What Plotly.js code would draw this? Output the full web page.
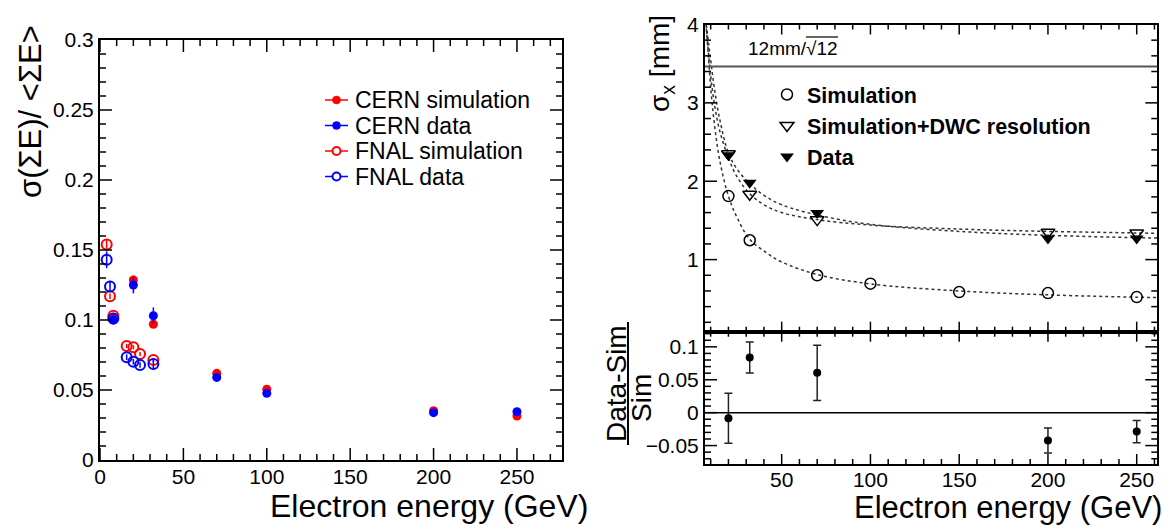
<!DOCTYPE html>
<html>
<head>
<meta charset="utf-8">
<script src="https://cdn.plot.ly/plotly-3.0.1.min.js"></script>
<style>
html,body{margin:0;padding:0;background:#fff;}
#chart{width:1173px;height:526px;}
</style>
</head>
<body>
<div id="chart"></div>
<script>
// ---------- Left panel: energy resolution ----------
const fnalEnergy   = [4, 6, 8, 16, 20, 24, 32];
const fnalSim      = [0.154, 0.117, 0.103, 0.0814, 0.0805, 0.0757, 0.0714];
const fnalSimErr   = [0.003, 0.002, 0.002, 0.0015, 0.0015, 0.0015, 0.0015];
const fnalData     = [0.143, 0.124, 0.101, 0.0734, 0.0702, 0.0679, 0.0686];
const fnalDataErr  = [0.006, 0.004, 0.003, 0.002, 0.002, 0.002, 0.004];
const cernEnergy   = [8, 20, 32, 70, 100, 200, 250];
const cernSim      = [0.102, 0.1286, 0.097, 0.0619, 0.0505, 0.0352, 0.0314];
const cernSimErr   = [0.002, 0.003, 0.002, 0.001, 0.001, 0.001, 0.001];
const cernData     = [0.100, 0.125, 0.103, 0.059, 0.0476, 0.0338, 0.0345];
const cernDataErr  = [0.003, 0.006, 0.006, 0.0015, 0.0015, 0.001, 0.001];
const leftLegendNames  = ['CERN simulation', 'CERN data', 'FNAL simulation', 'FNAL data'];

// ---------- Right panel: position resolution ----------
const simEnergy    = [20, 32, 70, 100, 150, 200, 250];
const simSigma     = [1.81, 1.247, 0.80, 0.693, 0.586, 0.573, 0.522];
const dwcEnergy    = [20, 32, 70, 200, 250];
const dwcSigma     = [2.35, 1.834, 1.51, 1.35, 1.34];
const dataEnergy   = [20, 32, 70, 200, 250];
const dataSigma    = [2.33, 1.98, 1.595, 1.27, 1.27];
// fitted curves
const curveEnergy  = [7.5, 10, 12, 15, 20, 25, 32, 40, 50, 70, 100, 150, 200, 250, 262];
const simCurve     = [4.0, 3.2, 2.75, 2.28, 1.81, 1.53, 1.26, 1.11, 0.97, 0.81, 0.69, 0.60, 0.55, 0.52, 0.515];
const dwcCurve     = [3.95, 3.35, 3.0, 2.65, 2.3, 2.05, 1.84, 1.70, 1.60, 1.51, 1.44, 1.39, 1.36, 1.34, 1.335];
const dataCurve    = [4.0, 3.55, 3.2, 2.8, 2.36, 2.15, 1.97, 1.82, 1.70, 1.57, 1.45, 1.36, 1.31, 1.28, 1.275];
// ratio (Data-Sim)/Sim
const ratioEnergy  = [20, 32, 70, 200, 250];
const ratioValue   = [-0.0085, 0.0839, 0.0606, -0.0424, -0.0288];
const ratioErr     = [0.038, 0.0235, 0.042, 0.019, 0.017];
const wireLimit    = 12 / Math.sqrt(12);

const FONT = 'Liberation Sans, Arial, Helvetica, sans-serif';
const RED = '#ff0000', BLUE = '#0000ff';
const W = 1173, H = 526;
const px = v => v / W;
const py = v => (H - v) / H;

// axis geometry
const leftXDom = [px(100), px(562)],      leftXRange = [0, 277];
const leftYDom = [py(460), py(40)],       leftYRange = [0, 0.3];
const rightXDom = [px(705), px(1157.3)],  rightXRange = [6.8, 261.6];
const upYDom = [py(331.7), py(24.5)],     upYRange = [0.08, 4];
const loYDom = [py(464), py(331.7)],      loYRange = [-0.078, 0.123];

function errY(arr, color, width) {
  return {type: 'data', array: arr, visible: true, color: color, thickness: 1.5, width: width};
}

// ---- ROOT-style frame ticks (inside, all four sides), placed through the axis mapping ----
function tickValues(from, to, step, scale) {
  const out = [];
  for (let i = Math.round(from * scale); i <= Math.round(to * scale); i += Math.round(step * scale)) out.push(i / scale);
  return out;
}
const toPaper = (v, dom, range) => dom[0] + (v - range[0]) / (range[1] - range[0]) * (dom[1] - dom[0]);
const tickShapes = [];
function frameTicks(xDom, xRange, yDom, yRange, xMaj, xMin, yMaj, yMin, xLen, yLen) {
  const line = (x0, y0, x1, y1) => tickShapes.push({type: 'line', xref: 'paper', yref: 'paper',
    x0: x0, y0: y0, x1: x1, y1: y1, line: {color: '#000', width: 1.5}});
  const addX = (vals, len) => vals.forEach(v => {
    const xp = toPaper(v, xDom, xRange), l = len / H;
    line(xp, yDom[0], xp, yDom[0] + l);
    line(xp, yDom[1], xp, yDom[1] - l);
  });
  const addY = (vals, len) => vals.forEach(v => {
    const yp = toPaper(v, yDom, yRange), l = len / W;
    line(xDom[0], yp, xDom[0] + l, yp);
    line(xDom[1], yp, xDom[1] - l, yp);
  });
  addX(xMaj, xLen[0]); addX(xMin, xLen[1]);
  addY(yMaj, yLen[0]); addY(yMin, yLen[1]);
}
const not = m => v => Math.abs(v / m - Math.round(v / m)) > 1e-6;
frameTicks(leftXDom, leftXRange, leftYDom, leftYRange,
  tickValues(0, 250, 50, 1), tickValues(10, 270, 10, 1).filter(not(50)),
  tickValues(0.05, 0.25, 0.05, 100), tickValues(0.01, 0.29, 0.01, 100).filter(not(0.05)), [12, 6], [12, 6]);
frameTicks(rightXDom, rightXRange, upYDom, upYRange,
  tickValues(50, 250, 50, 1), tickValues(10, 260, 10, 1).filter(not(50)),
  tickValues(1, 3, 1, 1), tickValues(0.2, 3.8, 0.2, 10).filter(not(1)), [10, 5], [12, 6]);
frameTicks(rightXDom, rightXRange, loYDom, loYRange,
  tickValues(50, 250, 50, 1), tickValues(10, 260, 10, 1).filter(not(50)),
  tickValues(-0.05, 0.1, 0.05, 100), tickValues(-0.07, 0.12, 0.01, 100).filter(not(0.05)), [10, 5], [12, 6]);

const traces = [
  // left panel data
  {x: fnalEnergy, y: fnalSim, mode: 'markers', type: 'scatter', xaxis: 'x', yaxis: 'y', showlegend: false,
   marker: {symbol: 'circle-open', size: 10, color: RED, line: {width: 2, color: RED}}, error_y: errY(fnalSimErr, RED, 0)},
  {x: cernEnergy, y: cernSim, mode: 'markers', type: 'scatter', xaxis: 'x', yaxis: 'y', showlegend: false,
   marker: {symbol: 'circle', size: 9, color: RED}, error_y: errY(cernSimErr, RED, 0)},
  {x: fnalEnergy, y: fnalData, mode: 'markers', type: 'scatter', xaxis: 'x', yaxis: 'y', showlegend: false,
   marker: {symbol: 'circle-open', size: 10, color: BLUE, line: {width: 2, color: BLUE}}, error_y: errY(fnalDataErr, BLUE, 0)},
  {x: cernEnergy, y: cernData, mode: 'markers', type: 'scatter', xaxis: 'x', yaxis: 'y', showlegend: false,
   marker: {symbol: 'circle', size: 9, color: BLUE}, error_y: errY(cernDataErr, BLUE, 0)},

  // right panel curves
  {x: curveEnergy, y: simCurve, mode: 'lines', xaxis: 'x2', yaxis: 'y2', showlegend: false,
   line: {color: '#333', width: 1.5, dash: 'dot', shape: 'spline'}},
  {x: curveEnergy, y: dwcCurve, mode: 'lines', xaxis: 'x2', yaxis: 'y2', showlegend: false,
   line: {color: '#333', width: 1.5, dash: 'dot', shape: 'spline'}},
  {x: curveEnergy, y: dataCurve, mode: 'lines', xaxis: 'x2', yaxis: 'y2', showlegend: false,
   line: {color: '#333', width: 1.5, dash: 'dot', shape: 'spline'}},
  // right panel markers
  {x: simEnergy, y: simSigma, mode: 'markers', xaxis: 'x2', yaxis: 'y2', name: '<b>Simulation</b>',
   legend: 'legend2', legendgroup: 'e',
   marker: {symbol: 'circle-open', size: 11, color: '#000', line: {width: 1.5, color: '#000'}}},
  {x: dwcEnergy, y: dwcSigma, mode: 'markers', xaxis: 'x2', yaxis: 'y2', name: '<b>Simulation+DWC resolution</b>',
   legend: 'legend2', legendgroup: 'f',
   marker: {symbol: 'triangle-down-open', size: 12, color: '#000', line: {width: 1.5, color: '#000'}}},
  {x: dataEnergy, y: dataSigma, mode: 'markers', xaxis: 'x2', yaxis: 'y2', name: '<b>Data</b>',
   legend: 'legend2', legendgroup: 'g',
   marker: {symbol: 'triangle-down', size: 12, color: '#000'}},
  // ratio panel
  {x: ratioEnergy, y: ratioValue, mode: 'markers', xaxis: 'x3', yaxis: 'y3', showlegend: false,
   marker: {symbol: 'circle', size: 8, color: '#000'}, error_y: errY(ratioErr, '#222', 4)}
];

const tickFont = {family: FONT, size: 21, color: '#000'};
function axisBase(extra) {
  return Object.assign({
    showline: true, linecolor: '#000', linewidth: 2, mirror: true,
    ticks: '', tickmode: 'linear',
    showgrid: false, zeroline: false, tickfont: tickFont, fixedrange: true
  }, extra);
}

// manual legend for the left panel
const legColors  = [RED, BLUE, RED, BLUE];
const legFilled  = [true, true, false, false];
const legRows    = [100, 125.5, 151, 176.5];
const legShapes = [];
const legAnnots = [];
leftLegendNames.forEach((name, i) => {
  legShapes.push({type: 'line', xref: 'paper', yref: 'paper',
    x0: px(325), x1: px(348), y0: py(legRows[i]), y1: py(legRows[i]),
    line: {color: legColors[i], width: 1.5}});
  legShapes.push({type: 'circle', xref: 'paper', yref: 'paper', xsizemode: 'pixel', ysizemode: 'pixel',
    xanchor: px(336.5), yanchor: py(legRows[i]), x0: -4, x1: 4, y0: -4, y1: 4,
    fillcolor: legFilled[i] ? legColors[i] : '#fff',
    line: {color: legColors[i], width: legFilled[i] ? 0.5 : 2}});
  legAnnots.push({text: name, xref: 'paper', yref: 'paper', x: px(353), y: py(legRows[i]),
    xanchor: 'left', yanchor: 'middle', showarrow: false,
    font: {family: FONT, size: 23, color: '#000'}});
});

const layout = {
  width: W, height: H,
  margin: {l: 0, r: 0, t: 0, b: 0},
  paper_bgcolor: '#fff', plot_bgcolor: '#fff',
  font: {family: FONT, color: '#000'},
  xaxis: axisBase({domain: leftXDom, range: leftXRange, anchor: 'y', dtick: 50, tick0: 0,
    ticklabelstandoff: -3}),
  yaxis: axisBase({domain: leftYDom, range: leftYRange, anchor: 'x', dtick: 0.05, tick0: 0}),
  xaxis2: axisBase({domain: rightXDom, range: rightXRange, anchor: 'y2', dtick: 50, tick0: 0,
    showticklabels: false}),
  yaxis2: axisBase({domain: upYDom, range: upYRange, anchor: 'x2', dtick: 1, tick0: 0}),
  xaxis3: axisBase({domain: rightXDom, range: rightXRange, anchor: 'y3', dtick: 50, tick0: 0,
    ticklabelstandoff: -4}),
  yaxis3: axisBase({domain: loYDom, range: loYRange, anchor: 'x3', dtick: 0.05, tick0: 0}),
  showlegend: true,
  legend2: {x: px(767), y: py(74), xanchor: 'left', yanchor: 'top', bgcolor: 'rgba(0,0,0,0)',
    font: {family: FONT, size: 21.5, color: '#000'}, tracegroupgap: 0, itemwidth: 30},
  shapes: [
    {type: 'line', xref: 'x2 domain', yref: 'y2', x0: 0, x1: 1, y0: wireLimit, y1: wireLimit,
     line: {color: '#555', width: 2}},
    {type: 'line', xref: 'x3 domain', yref: 'y3', x0: 0, x1: 1, y0: 0, y1: 0,
     line: {color: '#000', width: 1.5}},
    // fraction bar of the ratio title
    {type: 'line', xref: 'paper', yref: 'paper', x0: px(628), x1: px(628), y0: py(322), y1: py(445),
     line: {color: '#000', width: 2}},
    // overline of the square root
    {type: 'line', xref: 'paper', yref: 'paper', x0: px(806), x1: px(838), y0: py(37), y1: py(37),
     line: {color: '#000', width: 1.2}}
  ].concat(legShapes, tickShapes),
  annotations: [
    {text: 'Electron energy (GeV)', xref: 'paper', yref: 'paper', x: px(590), y: py(506),
     xanchor: 'right', yanchor: 'middle', showarrow: false, font: {family: FONT, size: 32, color: '#000'}},
    {text: 'Electron energy (GeV)', xref: 'paper', yref: 'paper', x: px(1164), y: py(507),
     xanchor: 'right', yanchor: 'middle', showarrow: false, font: {family: FONT, size: 31, color: '#000'}},
    {text: 'σ(ΣE)/ &lt;ΣE&gt;', xref: 'paper', yref: 'paper', x: px(30), y: py(112), textangle: -90,
     xanchor: 'center', yanchor: 'middle', showarrow: false, font: {family: FONT, size: 31, color: '#000'}},
    {text: 'σ<sub>x</sub> [mm]', xref: 'paper', yref: 'paper', x: px(661), y: py(64), textangle: -90,
     xanchor: 'center', yanchor: 'middle', showarrow: false, font: {family: FONT, size: 28, color: '#000'}},
    {text: 'Data-Sim', xref: 'paper', yref: 'paper', x: px(616), y: py(384), textangle: -90,
     xanchor: 'center', yanchor: 'middle', showarrow: false, font: {family: FONT, size: 28, color: '#000'}},
    {text: 'Sim', xref: 'paper', yref: 'paper', x: px(641), y: py(398), textangle: -90,
     xanchor: 'center', yanchor: 'middle', showarrow: false, font: {family: FONT, size: 28, color: '#000'}},
    {text: '12mm/√12', xref: 'paper', yref: 'paper', x: px(746), y: py(48),
     xanchor: 'left', yanchor: 'middle', showarrow: false, font: {family: FONT, size: 19, color: '#000'}}
  ].concat(legAnnots)
};

Plotly.newPlot('chart', traces, layout, {staticPlot: true, displayModeBar: false});
</script>
</body>
</html>
